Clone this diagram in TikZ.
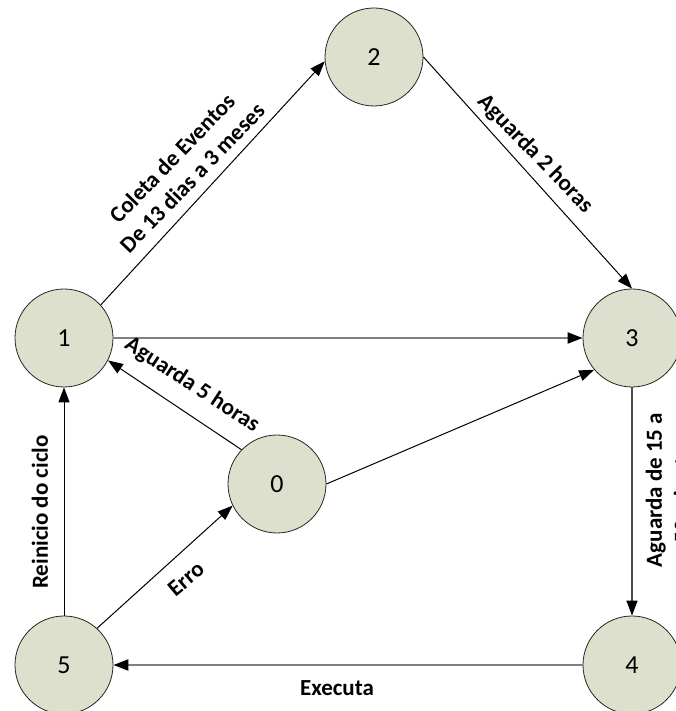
\documentclass[tikz,border=0pt]{standalone}
\usepackage{fontspec}
\setmainfont{Carlito}
\usetikzlibrary{arrows.meta}
\definecolor{nodefill}{RGB}{221,224,204}
\definecolor{edgegray}{RGB}{128,128,128}
\begin{document}
\begin{tikzpicture}[x=1pt,y=1pt,
  state/.style={circle, draw=black!85, line width=0.8pt, fill=nodefill, minimum size=98pt, inner sep=0pt, font=\fontsize{26}{31}\selectfont},
  edge/.style={line width=1pt, -{Triangle[length=15pt,width=11pt,color=black]}},
  grayedge/.style={edge, draw=edgegray, line width=2pt},
  darkedge/.style={edge, draw=black!70, line width=1.5pt},
  lbl/.style={font=\fontsize{23}{28}\selectfont\bfseries, align=center, inner sep=0pt}]
\useasboundingbox (0,0) rectangle (676,711);
\clip (0,0) rectangle (676,711);

\node[state] (n2) at (374,654) {2};
\node[state] (n1) at (64,373) {1};
\node[state] (n3) at (632,373) {3};
\node[state] (n0) at (277,227) {0};
\node[state] (n5) at (64,46) {5};
\node[state] (n4) at (632,46) {4};

\draw[edge] (n1.42) -- (n2.185);
\draw[edge] (n2.east) -- (n3.north);
\draw[grayedge] (n1.east) -- (n3.west);
\draw[edge] (n0.136) -- (n1.-27);
\draw[edge] (n0.east) -- (n3.220);
\draw[darkedge] (n3.south) -- (n4.north);
\draw[grayedge] (n4.west) -- (n5.east);
\draw[edge] (n5.north) -- (n1.south);
\draw[edge] (n5.48) -- (n0.206);

\node[lbl, rotate=46] (l12) at (182,543) {Coleta de Eventos\\De 13 dias a 3 meses};
\node[lbl, rotate=-46] (l23) at (535,557) {Aguarda 2 horas};
\node[lbl, rotate=-33] (l01) at (192,326) {Aguarda 5 horas};
\node[lbl, rotate=90] (l34) at (668,221) {Aguarda de 15 a\\50 minutos};
\node[lbl, rotate=90] (l51) at (40,199) {Reinicio do ciclo};
\node[lbl, rotate=40] (l50) at (186,132) {Erro};
\node[lbl] (l45) at (337,23) {Executa};
\end{tikzpicture}
\end{document}
